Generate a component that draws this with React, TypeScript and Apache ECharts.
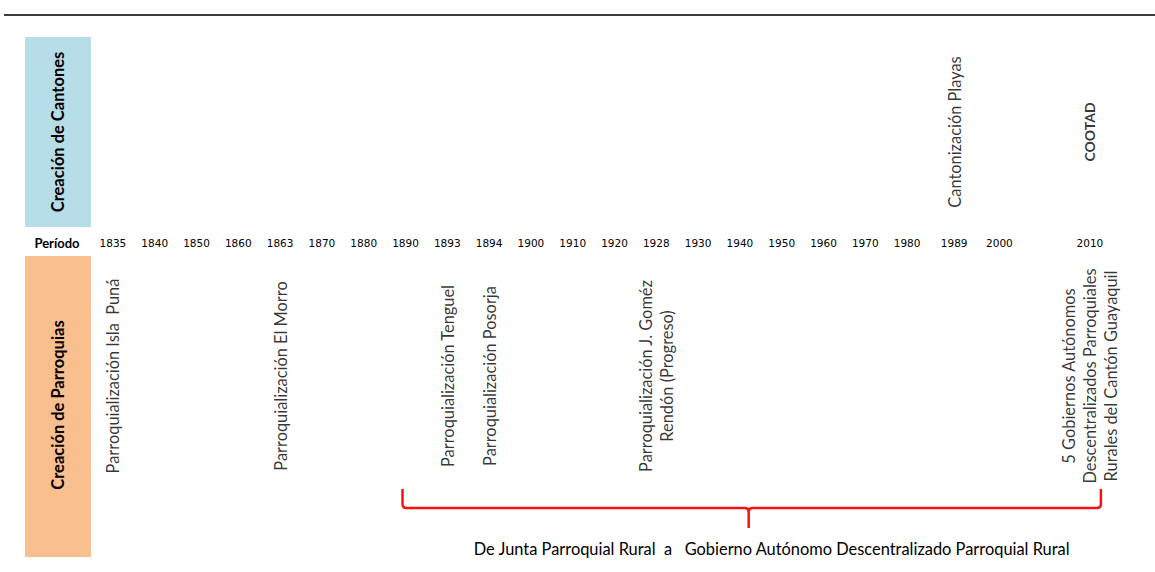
import React, { useEffect, useRef } from "react";
import * as echarts from "echarts";

// ---- Data ----
const periodsEarly = ["1835", "1840", "1850", "1860", "1863", "1870", "1880", "1890", "1893", "1894", "1900", "1910", "1920", "1928", "1930", "1940", "1950", "1960", "1970", "1980"];
const periodsLate = ["1989", "2000", "", "2010"];

const cantonPeriods = ["1989", "2010"];
const cantonLabels = ["Cantonización Playas", "COOTAD"];

const parroquiaPeriods = ["1835", "1863", "1893", "1894", "1928", "2010"];
const parroquiaLabels = [
  "Parroquialización Isla  Puná",
  "Parroquialización El Morro",
  "Parroquialización Tenguel",
  "Parroquialización Posorja",
  "Parroquialización J. Goméz\nRendón (Progreso)",
  "5 Gobiernos Autónomos\nDescentralizados Parroquiales\nRurales del Cantón Guayaquil",
];

const rowTitles = ["Creación de Cantones", "Creación de Parroquias"];
const periodTitle = "Período";
const bracketFrom = "1890";
const bracketTo = "2010";
const bracketText = "De Junta Parroquial Rural  a   Gobierno Autónomo Descentralizado Parroquial Rural";
const boldLabels = ["COOTAD"];

// ---- Brace shape ----
const Brace = echarts.graphic.extendShape({
  shape: { x1: 0, x2: 0, xm: 0, yTop: 0, yMid: 0, yTip: 0, r: 4 },
  buildPath(ctx: any, s: any) {
    const r = s.r;
    ctx.moveTo(s.x1, s.yTop);
    ctx.lineTo(s.x1, s.yMid - r);
    ctx.quadraticCurveTo(s.x1, s.yMid, s.x1 + r, s.yMid);
    ctx.lineTo(s.xm - r, s.yMid);
    ctx.quadraticCurveTo(s.xm, s.yMid, s.xm, s.yMid + r);
    ctx.lineTo(s.xm, s.yTip);
    ctx.moveTo(s.xm, s.yMid + r);
    ctx.quadraticCurveTo(s.xm, s.yMid, s.xm + r, s.yMid);
    ctx.lineTo(s.x2 - r, s.yMid);
    ctx.quadraticCurveTo(s.x2, s.yMid, s.x2, s.yMid - r);
    ctx.lineTo(s.x2, s.yTop);
  },
});
echarts.graphic.registerShape("brace", Brace);

const FONT = "Lato";
const LABEL_SIZE = 16.4;

function buildSeries(periods: string[], labels: string[], early: boolean, gridOffset: number) {
  const axisCats = early ? periodsEarly : periodsLate;
  const data: any[] = [];
  periods.forEach((p, i) => {
    const idx = axisCats.indexOf(p);
    if (idx < 0) return;
    const bold = boldLabels.includes(labels[i]);
    data.push({
      name: labels[i],
      value: [idx, 0],
      label: bold ? { fontWeight: "bold", fontSize: 14 } : undefined,
    });
  });
  const axisIndex = gridOffset + (early ? 0 : 1);
  return {
    type: "scatter",
    xAxisIndex: axisIndex,
    yAxisIndex: axisIndex,
    symbolSize: 0,
    silent: true,
    data,
    label: {
      show: true,
      position: "inside",
      rotate: 90,
      formatter: "{b}",
      fontFamily: FONT,
      fontSize: LABEL_SIZE,
      color: "#000",
      align: "center",
      verticalAlign: "middle",
      lineHeight: 21,
    },
  };
}

export default function App() {
  const ref = useRef<HTMLDivElement>(null);
  useEffect(() => {
    if (!ref.current) return;
    const chart = echarts.init(ref.current, null, { renderer: "svg" });

    const leftL = 92, widthL = 836, leftR = 931.5, widthR = 181;
    const topT = 37, hT = 190, topB = 256, hB = 240;
    const grids = [
      { left: leftL, top: topT, width: widthL, height: hT },
      { left: leftR, top: topT, width: widthR, height: hT },
      { left: leftL, top: topB, width: widthL, height: hB },
      { left: leftR, top: topB, width: widthR, height: hB },
    ];
    const mkX = (i: number) => ({
      type: "category",
      gridIndex: i,
      data: i % 2 === 0 ? periodsEarly : periodsLate,
      boundaryGap: true,
      axisLine: { show: false },
      axisTick: { show: false },
      splitLine: { show: false },
      axisLabel: {
        show: i < 2,
        interval: 0,
        margin: 10,
        fontFamily: "DejaVu Sans",
        fontSize: 10.5,
        color: "#000",
      },
    });
    const mkY = (i: number) => ({
      type: "category",
      gridIndex: i,
      data: ["row"],
      show: false,
    });

    const titleStyle = {
      fontFamily: FONT,
      fontWeight: "bold",
      fontSize: 16.5,
      fill: "#000",
      align: "center",
      verticalAlign: "middle",
    };

    const baseGraphic: any[] = [
      {
        id: "topline",
        type: "line",
        shape: { x1: 4, y1: 15, x2: 1155, y2: 15 },
        style: { stroke: "#3c3c3c", lineWidth: 2 },
      },
      {
        id: "boxTop",
        type: "rect",
        shape: { x: 25, y: 37, width: 66, height: 190 },
        style: { fill: "#B7DEE8" },
      },
      {
        id: "boxTopText",
        type: "text",
        x: 58,
        y: 132,
        rotation: Math.PI / 2,
        style: { ...titleStyle, text: rowTitles[0] },
      },
      {
        id: "boxBot",
        type: "rect",
        shape: { x: 25, y: 256, width: 66, height: 301 },
        style: { fill: "#FABF8F" },
      },
      {
        id: "boxBotText",
        type: "text",
        x: 58,
        y: 405,
        rotation: Math.PI / 2,
        style: { ...titleStyle, text: rowTitles[1] },
      },
      {
        id: "periodText",
        type: "text",
        x: 57,
        y: 243,
        style: {
          text: periodTitle,
          fontFamily: FONT,
          fontWeight: "bold",
          fontSize: 13,
          fill: "#000",
          align: "center",
          verticalAlign: "middle",
        },
      },
    ];

    chart.setOption({
      animation: false,
      grid: grids,
      xAxis: [0, 1, 2, 3].map(mkX),
      yAxis: [0, 1, 2, 3].map(mkY),
      series: [
        buildSeries(cantonPeriods, cantonLabels, true, 0),
        buildSeries(cantonPeriods, cantonLabels, false, 0),
        buildSeries(parroquiaPeriods, parroquiaLabels, true, 2),
        buildSeries(parroquiaPeriods, parroquiaLabels, false, 2),
      ],
      graphic: baseGraphic,
    });

    const fromEarly = periodsEarly.indexOf(bracketFrom);
    const xFrom = chart.convertToPixel({ xAxisIndex: 2 }, fromEarly) as number;
    const xTo = chart.convertToPixel({ xAxisIndex: 3 }, periodsLate.indexOf(bracketTo)) as number;
    const x1 = xFrom - 3;
    const x2 = xTo + 11;
    const xm = (x1 + x2) / 2 - 3;

    chart.setOption({
      graphic: [
        ...baseGraphic,
        {
          id: "brace",
          type: "brace",
          shape: { x1, x2, xm, yTop: 489, yMid: 508, yTip: 528, r: 4 },
          style: { stroke: "#ff1010", lineWidth: 2.5, fill: "none" },
        },
        {
          id: "braceText",
          type: "text",
          x: xm + 23,
          y: 548,
          style: {
            text: bracketText,
            fontFamily: FONT,
            fontSize: LABEL_SIZE,
            fill: "#000",
            align: "center",
            verticalAlign: "middle",
          },
        },
      ],
    });

    return () => chart.dispose();
  }, []);
  return (
    <div
      ref={ref}
      style={{ position: "fixed", left: 0, top: 0, width: 1155, height: 572, background: "#fff" }}
    />
  );
}
